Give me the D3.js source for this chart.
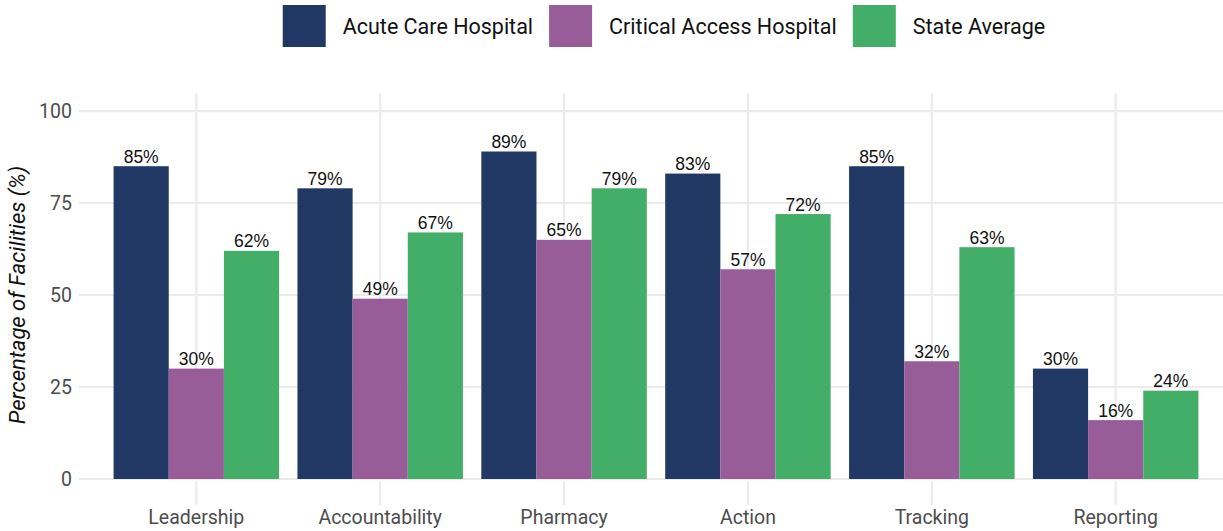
<!DOCTYPE html>
<html>
<head>
<meta charset="utf-8">
<script src="https://cdn.jsdelivr.net/npm/d3@7"></script>
<style>
  body { margin: 0; background: #fff; }
  svg { display: block; }
</style>
</head>
<body>
<div class="main"></div>
<script>
// categories and series
let categories = ["Leadership", "Accountability", "Pharmacy", "Action", "Tracking", "Reporting"];
let seriesNames = ["Acute Care Hospital", "Critical Access Hospital", "State Average"];
let acuteCare = [85, 79, 89, 83, 85, 30];
let criticalAccess = [30, 49, 65, 57, 32, 16];
let stateAverage = [62, 67, 79, 72, 63, 24];
let yTicks = [0, 25, 50, 75, 100];
let colors = ["#213864", "#985d99", "#43ae67"];

let width = 1223,
    height = 531;

let svg = d3.select("div.main").append("svg")
  .attr("width", width)
  .attr("height", height);

// build rows for each group
let series = [acuteCare, criticalAccess, stateAverage];
let rows = categories.map(function(c, i) {
  return { cat: c, vals: series.map(function(s, j) { return { key: seriesNames[j], v: s[i] }; }) };
});

// scales
let x = d3.scaleBand()
  .domain(categories)
  .range([86, 1226])
  .paddingInner(0.1)
  .paddingOuter(0.15);

let xSub = d3.scaleBand()
  .domain(seriesNames)
  .range([0, x.bandwidth()]);

let y = d3.scaleLinear()
  .domain([0, 104.9])
  .range([479, 93]);

let color = d3.scaleOrdinal()
  .domain(seriesNames)
  .range(colors);

// grid
let gridColor = "#ebebeb";
svg.append("g")
  .selectAll("line.hgrid")
  .data(yTicks)
  .enter().append("line")
  .attr("x1", 79)
  .attr("x2", width)
  .attr("y1", function(d) { return y(d); })
  .attr("y2", function(d) { return y(d); })
  .attr("stroke", gridColor)
  .attr("stroke-width", 2.2);

svg.append("g")
  .selectAll("line.vgrid")
  .data(categories)
  .enter().append("line")
  .attr("x1", function(d) { return x(d) + x.bandwidth() / 2; })
  .attr("x2", function(d) { return x(d) + x.bandwidth() / 2; })
  .attr("y1", y(104.9))
  .attr("y2", y(0))
  .attr("stroke", gridColor)
  .attr("stroke-width", 2.2);

// bars
let groups = svg.append("g")
  .selectAll("g.group")
  .data(rows)
  .enter().append("g")
  .attr("transform", function(d) { return "translate(" + x(d.cat) + ",0)"; });

groups.selectAll("rect")
  .data(function(d) { return d.vals; })
  .enter().append("rect")
  .attr("x", function(d) { return xSub(d.key); })
  .attr("width", xSub.bandwidth())
  .attr("y", function(d) { return y(d.v); })
  .attr("height", function(d) { return y(0) - y(d.v); })
  .attr("fill", function(d) { return color(d.key); });

groups.selectAll("text")
  .data(function(d) { return d.vals; })
  .enter().append("text")
  .attr("x", function(d) { return xSub(d.key) + xSub.bandwidth() / 2; })
  .attr("y", function(d) { return y(d.v) - 3.5; })
  .attr("text-anchor", "middle")
  .attr("font-family", "Liberation Sans, Arial, sans-serif")
  .attr("font-size", "17.5px")
  .attr("fill", "#111")
  .text(function(d) { return d.v + "%"; });

// x axis
let xAxis = d3.axisBottom(x).tickSize(24).tickPadding(5);
let gx = svg.append("g")
  .attr("transform", "translate(0,481)")
  .call(xAxis);
gx.select(".domain").remove();
gx.selectAll(".tick line").attr("stroke", gridColor).attr("stroke-width", 2.2);
gx.selectAll(".tick text")
  .attr("font-family", "Roboto, sans-serif")
  .attr("font-size", "19.5px")
  .attr("fill", "#4d4d4d");

// y axis
let yAxis = d3.axisLeft(y).tickValues(yTicks).tickSize(0).tickPadding(7);
let gy = svg.append("g")
  .attr("transform", "translate(79,0)")
  .call(yAxis);
gy.select(".domain").remove();
gy.selectAll(".tick text")
  .attr("font-family", "Roboto, sans-serif")
  .attr("font-size", "19.5px")
  .attr("fill", "#4d4d4d");

// y title
svg.append("text")
  .attr("transform", "translate(25," + ((y(0) + y(100)) / 2) + ")rotate(-90)")
  .attr("text-anchor", "middle")
  .attr("font-family", "Roboto, sans-serif")
  .attr("font-style", "italic")
  .attr("font-size", "22px")
  .attr("fill", "#111")
  .text("Percentage of Facilities (%)");

// legend
let legend = svg.append("g");
let lx = 0;
seriesNames.forEach(function(name, i) {
  let item = legend.append("g").attr("transform", "translate(" + lx + ",0)");
  item.append("rect")
    .attr("x", 0)
    .attr("y", 5)
    .attr("width", 43)
    .attr("height", 42)
    .attr("fill", colors[i]);
  let t = item.append("text")
    .attr("x", 60)
    .attr("y", 26)
    .attr("dy", "0.35em")
    .attr("font-family", "Roboto, sans-serif")
    .attr("font-size", "21.5px")
    .attr("fill", "#111")
    .text(name);
  lx += 60 + t.node().getComputedTextLength() + 16;
});
let legendWidth = lx - 16;
legend.attr("transform", "translate(" + (664 - legendWidth / 2) + ",0)");
</script>
</body>
</html>
